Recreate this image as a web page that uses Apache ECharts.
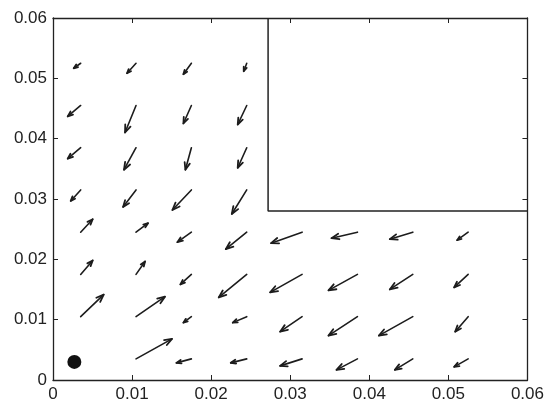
<!DOCTYPE html>
<html>
<head>
<meta charset="utf-8">
<script src="https://cdn.jsdelivr.net/npm/echarts@6/dist/echarts.min.js"></script>
<style>
html,body{margin:0;padding:0;background:#fff;}
#chart{width:547px;height:405px;}
</style>
</head>
<body>
<div id="chart"></div>
<script>
// Grid points of the vector field
var gridX = [0.0035, 0.0105, 0.0175, 0.0245, 0.0315, 0.0385, 0.0455, 0.0525];
var gridY = [0.0525, 0.0455, 0.0385, 0.0315, 0.0245, 0.0175, 0.0105, 0.0035];
// Vector components (x 1e-3 data units), rows follow gridY, null = no arrow
var U = [
  [-0.88, -1.14, -1.01, -0.38, null, null, null, null],
  [-1.64, -1.39, -1.01, -1.14, null, null, null, null],
  [-1.64, -1.52, -0.76, -1.14, null, null, null, null],
  [-1.26, -1.64, -2.40, -1.89, null, null, null, null],
  [ 1.52,  1.52, -1.77, -2.65, -3.92, -3.28, -2.91, -1.39],
  [ 1.52,  1.14, -1.39, -3.54, -4.04, -3.66, -2.91, -1.77],
  [ 2.91,  3.66, -1.01, -1.77, -2.78, -3.66, -4.29, -1.64],
  [ null,  4.55, -1.89, -2.02, -2.78, -2.65, -2.27, -1.77]
];
var V = [
  [-0.83, -1.66, -1.82, -1.33, null, null, null, null],
  [-1.82, -4.48, -2.98, -3.15, null, null, null, null],
  [-1.82, -3.65, -3.65, -3.32, null, null, null, null],
  [-1.82, -2.82, -3.32, -3.98, null, null, null, null],
  [ 2.15,  1.49, -1.66, -2.82, -1.82, -0.99, -1.16, -1.33],
  [ 2.32,  2.15, -1.66, -3.81, -2.98, -2.65, -2.49, -2.15],
  [ 3.65,  3.32, -0.99, -0.99, -2.49, -3.15, -3.15, -2.49],
  [ null,  3.32, -0.66, -0.66, -1.16, -1.82, -1.82, -1.33]
];
// Source point
var sourcePoint = [0.0027, 0.003];
// Rectangle region (x range, y range)
var boxX = [0.0272, 0.06];
var boxY = [0.028, 0.06];
var xTicks = [0, 0.01, 0.02, 0.03, 0.04, 0.05, 0.06];
var yTicks = [0, 0.01, 0.02, 0.03, 0.04, 0.05, 0.06];

var arrows = [];
for (var r = 0; r < gridY.length; r++) {
  for (var c = 0; c < gridX.length; c++) {
    if (U[r][c] !== null) {
      arrows.push([gridX[c], gridY[r], U[r][c] * 1e-3, V[r][c] * 1e-3]);
    }
  }
}

var chart = echarts.init(document.getElementById('chart'), null, {renderer: 'canvas'});
var labelStyle = {fontFamily: 'Liberation Sans, Arial, sans-serif', fontSize: 17, color: '#222'};
var axisLine = {show: true, onZero: false, lineStyle: {color: '#222', width: 1.3}};
function fmt(v) { return v === 0 ? '0' : String(+v.toFixed(2)); }

chart.setOption({
  animation: false,
  backgroundColor: '#fff',
  grid: {left: 53, right: 18, top: 18, bottom: 25, containLabel: false},
  xAxis: [
    {type: 'value', position: 'bottom', min: xTicks[0], max: xTicks[xTicks.length - 1], interval: 0.01,
     axisLine: axisLine, axisTick: {inside: true, length: 5, lineStyle: {color: '#222'}},
     axisLabel: Object.assign({margin: 6, formatter: fmt}, labelStyle), splitLine: {show: false}},
    {type: 'value', position: 'top', min: xTicks[0], max: xTicks[xTicks.length - 1], interval: 0.01,
     axisLine: axisLine, axisTick: {inside: true, length: 5, lineStyle: {color: '#222'}},
     axisLabel: {show: false}, splitLine: {show: false}}
  ],
  yAxis: [
    {type: 'value', position: 'left', min: yTicks[0], max: yTicks[yTicks.length - 1], interval: 0.01,
     axisLine: axisLine, axisTick: {inside: true, length: 5, lineStyle: {color: '#222'}},
     axisLabel: Object.assign({margin: 6, formatter: fmt}, labelStyle), splitLine: {show: false}},
    {type: 'value', position: 'right', min: yTicks[0], max: yTicks[yTicks.length - 1], interval: 0.01,
     axisLine: axisLine, axisTick: {inside: true, length: 5, lineStyle: {color: '#222'}},
     axisLabel: {show: false}, splitLine: {show: false}}
  ],
  series: [
    {
      type: 'line', xAxisIndex: 0, yAxisIndex: 0, symbol: 'none', silent: true,
      lineStyle: {color: '#222', width: 1.5},
      data: [[boxX[0], boxY[1]], [boxX[0], boxY[0]], [boxX[1], boxY[0]]]
    },
    {
      type: 'custom', xAxisIndex: 0, yAxisIndex: 0, silent: true,
      data: arrows,
      renderItem: function (params, api) {
        var x = api.value(0), y = api.value(1), u = api.value(2), v = api.value(3);
        var p0 = api.coord([x, y]);
        var p1 = api.coord([x + u, y + v]);
        var dx = p1[0] - p0[0], dy = p1[1] - p0[1];
        var len = Math.sqrt(dx * dx + dy * dy);
        var hl = Math.min(Math.max(len * 0.33, 4.5), 8);
        var ang = Math.atan2(dy, dx);
        var a = 0.36;
        var h1 = [p1[0] - hl * Math.cos(ang - a), p1[1] - hl * Math.sin(ang - a)];
        var h2 = [p1[0] - hl * Math.cos(ang + a), p1[1] - hl * Math.sin(ang + a)];
        var st = {stroke: '#1c1c1c', lineWidth: 1.6, fill: null, lineCap: 'round', lineJoin: 'round'};
        var hs = {stroke: '#1c1c1c', lineWidth: 1.8, fill: null, lineCap: 'round', lineJoin: 'round'};
        return {
          type: 'group',
          children: [
            {type: 'polyline', shape: {points: [p0, p1]}, style: st},
            {type: 'polyline', shape: {points: [h1, p1, h2]}, style: hs}
          ]
        };
      }
    },
    {
      type: 'scatter', xAxisIndex: 0, yAxisIndex: 0, silent: true,
      symbol: 'circle', symbolSize: 14,
      itemStyle: {color: '#111', opacity: 1},
      data: [sourcePoint]
    }
  ]
});
</script>
</body>
</html>
